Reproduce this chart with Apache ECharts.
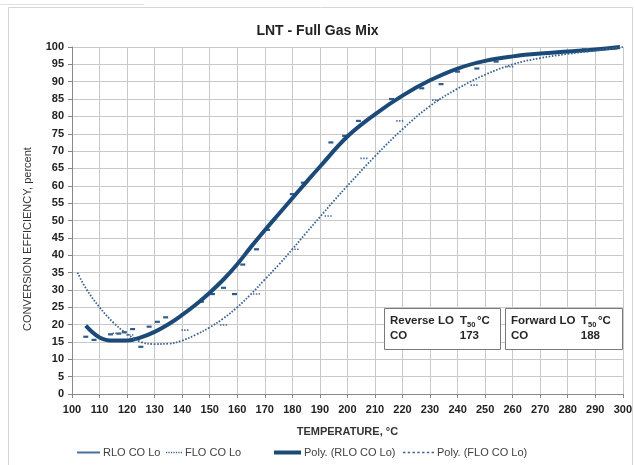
<!DOCTYPE html>
<html>
<head>
<meta charset="utf-8">
<script src="https://cdn.jsdelivr.net/npm/echarts@6/dist/echarts.min.js"></script>
<style>
html,body{margin:0;padding:0;background:#fff;}
#chart{width:635px;height:465px;}
</style>
</head>
<body>
<div id="chart"></div>
<script>
// ---- data ----
const xTicks = [100,110,120,130,140,150,160,170,180,190,200,210,220,230,240,250,260,270,280,290,300];
const yTicks = [0,5,10,15,20,25,30,35,40,45,50,55,60,65,70,75,80,85,90,95,100];

// RLO CO Lo raw points
const rloTemp = [105,108,114,117,119,122,125,128,131,134,147,151,155,159,162,167,171,180,184,194,199,204,216,227,234,240,247,254,277,286,297];
const rloConv = [16.5,15.6,17.2,17.4,17.8,18.7,13.6,19.4,20.8,22.1,26.6,28.8,30.6,28.8,37.3,41.7,47.3,57.6,60.9,72.5,74.4,78.7,85.0,88.1,89.3,92.9,93.8,95.8,98.6,99.3,99.6];

// FLO CO Lo raw points
const floTemp = [116,121,141,155,167,181,193,206,219,232,246,259,297];
const floConv = [17.5,17.0,18.4,19.9,28.8,41.7,51.3,67.9,78.7,84.7,89.0,94.3,99.6];

// Poly. (RLO CO Lo) trend curve
const rloPolyTemp = [105,110,115,120,125,130,135,140,145,150,155,160,165,170,175,180,185,190,200,210,220,230,240,250,260,270,280,290,299];
const rloPolyConv = [19.7,16.3,15.4,15.4,16.3,17.9,20.1,22.8,25.8,29.2,33.0,37.4,42.4,47.2,51.8,56.4,61.0,65.5,74.2,80.6,86.0,90.4,93.8,96.0,97.3,98.1,98.7,99.3,100];

// Poly. (FLO CO Lo) trend curve
const floPolyTemp = [102,105,110,115,120,125,130,135,140,145,150,155,160,165,170,175,180,185,190,195,200,210,220,230,240,250,260,270,280,290,300];
const floPolyConv = [35.0,30.5,25.0,20.6,17.3,15.0,14.4,14.5,15.4,17.1,19.2,21.8,25.0,28.8,33.0,37.2,41.7,46.4,51.0,55.6,60.0,68.5,76.3,83.0,88.0,92.0,95.0,96.8,98.0,99.0,100];

const seriesNames = ['RLO CO Lo','FLO CO Lo','Poly. (RLO CO Lo)','Poly. (FLO CO Lo)'];

// T50 summary boxes
const boxTitles = ['Reverse LO','Forward LO'];
const boxGas = ['CO','CO'];
const boxT50 = ['173','188'];

const zip = (a,b) => a.map((v,i)=>[v,b[i]]);

const dark = '#1C4A78';
const mid = '#3A6391';
const dotIcon = 'path://M0,0h1v1h-1zM2,0h1v1h-1zM4,0h1v1h-1zM6,0h1v1h-1zM8,0h1v1h-1zM10,0h1v1h-1zM12,0h1v1h-1z';
const dotMark = 'path://M0,0h1v1h-1zM2,0h1v1h-1zM4,0h1v1h-1z';
const fontFam = '"Liberation Sans", Arial, sans-serif';

const chart = echarts.init(document.getElementById('chart'), null, {renderer:'canvas'});

function legendItem(name, left, w, h, icon, color){
  return {
    data:[name], left:left, top:447, itemWidth:w, itemHeight:h, icon:icon,
    symbolKeepAspect:false, itemGap:0, padding:0,
    itemStyle:{color:color}, selectedMode:false,
    textStyle:{fontFamily:fontFam, fontSize:11, color:'#404040', padding:[0,0,0,-2]}
  };
}

const txt = (x, y, s, extra) => Object.assign({type:'text', x:x, y:y, z:101, silent:true,
  style:Object.assign({text:s, fontFamily:fontFam, fontSize:11.5, fontWeight:'bold', fill:'#262626'}, extra||{})});

function box(left, w, i){
  return {type:'group', x:left, y:308, z:100, children:[
    {type:'rect', z:100, silent:true, shape:{x:0.5, y:0.5, width:w, height:41},
      style:{fill:'#fff', stroke:'#7A7A7A', lineWidth:1}},
    txt(6, 7, boxTitles[i]),
    txt(76, 7, 'T'),
    txt(83, 13, '50', {fontSize:7.5}),
    txt(93, 7, '°C'),
    txt(6, 22, boxGas[i]),
    txt(95, 22, boxT50[i], {align:'right'})
  ]};
}

chart.setOption({
  animation:false,
  backgroundColor:'#fff',
  title:{
    text:'LNT - Full Gas Mix', left:'center', top:19,
    textStyle:{fontFamily:fontFam, fontSize:14, fontWeight:'bold', color:'#222'}
  },
  grid:{left:72, right:12, top:47, bottom:71, containLabel:false},
  xAxis:{
    type:'value', min:100, max:300, interval:10,
    name:'TEMPERATURE, °C', nameLocation:'middle', nameGap:32,
    nameTextStyle:{fontFamily:fontFam, fontSize:11, fontWeight:'bold', color:'#333'},
    axisLine:{show:true, lineStyle:{color:'#888'}},
    axisTick:{show:true, length:4, lineStyle:{color:'#888'}},
    axisLabel:{fontFamily:fontFam, fontSize:11, fontWeight:'bold', color:'#222', margin:10,
      formatter:v=>xTicks.includes(v)?String(v):''},
    splitLine:{show:true, lineStyle:{color:'#C9C9C9', width:1}}
  },
  yAxis:{
    type:'value', min:0, max:100, interval:5,
    axisLine:{show:true, lineStyle:{color:'#888'}},
    axisTick:{show:true, length:4, lineStyle:{color:'#888'}},
    axisLabel:{fontFamily:fontFam, fontSize:11, fontWeight:'bold', color:'#222', margin:8,
      formatter:v=>yTicks.includes(v)?String(v):''},
    splitLine:{show:true, lineStyle:{color:'#C9C9C9', width:1}}
  },
  legend:[
    legendItem(seriesNames[0], 77, 23, 2, 'rect', '#4A6FA0'),
    legendItem(seriesNames[1], 166, 16, 1.5, dotIcon, mid),
    legendItem(seriesNames[2], 274, 27, 4, 'rect', dark),
    legendItem(seriesNames[3], 403, 31, 1.5, dotIcon, mid)
  ],
  series:[
    {
      name:seriesNames[0], type:'line', data:zip(rloTemp, rloConv),
      lineStyle:{width:0, opacity:0}, symbol:'rect', symbolSize:[5,2.2],
      itemStyle:{color:'#2F5B8A'}, z:3
    },
    {
      name:seriesNames[1], type:'line', data:zip(floTemp, floConv),
      lineStyle:{width:0, opacity:0}, symbol:dotMark, symbolSize:[7,1.6], symbolKeepAspect:false,
      itemStyle:{color:'#45699A'}, z:3
    },
    {
      name:seriesNames[2], type:'line', data:zip(rloPolyTemp, rloPolyConv),
      smooth:0.4, symbol:'none', lineStyle:{width:4, color:dark}, itemStyle:{color:dark}, z:4
    },
    {
      name:seriesNames[3], type:'line', data:zip(floPolyTemp, floPolyConv),
      smooth:0.4, symbol:'none', lineStyle:{width:1.8, color:mid, type:[1.6,1.6]}, itemStyle:{color:mid}, z:4
    }
  ],
  graphic:[
    {type:'rect', silent:true, shape:{x:8.5, y:7.5, width:624, height:470},
      style:{fill:null, stroke:'#D6D6D6', lineWidth:1}, z:-10},
    {type:'line', silent:true, shape:{x1:0, y1:4.5, x2:144, y2:4.5},
      style:{stroke:'#E2E2E2', lineWidth:1}, z:-10},
    {type:'text', silent:true, x:28, y:239, rotation:Math.PI/2, z:10,
      style:{text:'CONVERSION EFFICIENCY, percent', fontFamily:fontFam, fontSize:11, fill:'#333',
        align:'center', verticalAlign:'middle'}},
    box(384, 116, 0),
    box(505, 117, 1)
  ]
});
</script>
</body>
</html>
